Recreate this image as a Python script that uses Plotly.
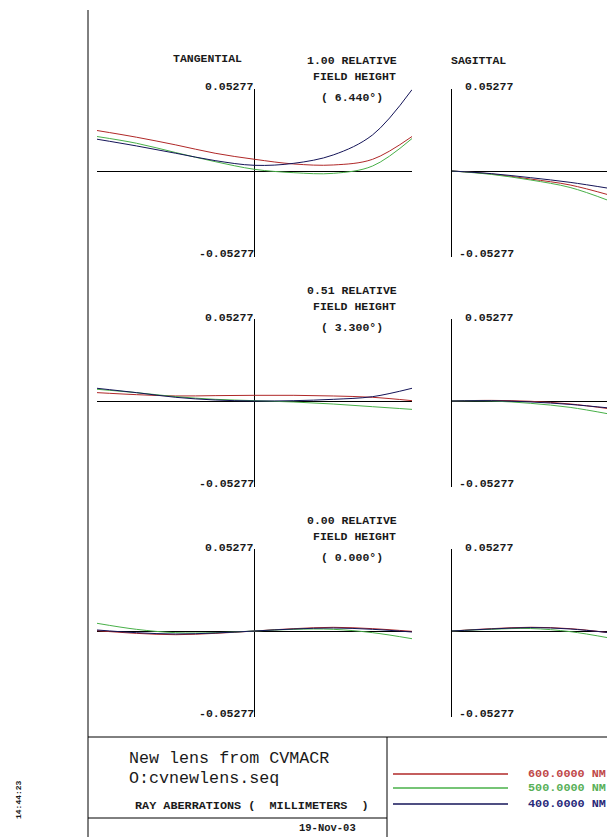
import plotly.graph_objects as go

W, H = 607, 837

# ---------------- data (ray aberrations, mm) ----------------
tan_pupil = [-1.0, -0.75, -0.5, -0.25, 0.0, 0.25, 0.5, 0.75, 1.0]
sag_pupil = [0.0, 0.25, 0.5, 0.75, 1.0]

wavelength_labels = ["600.0000 NM", "500.0000 NM", "400.0000 NM"]
field_labels = [["1.00 RELATIVE", "FIELD HEIGHT", "( 6.440°)"],
                ["0.51 RELATIVE", "FIELD HEIGHT", "( 3.300°)"],
                ["0.00 RELATIVE", "FIELD HEIGHT", "( 0.000°)"]]
scale_label = "0.05277"

# field 1.00
tan_f1_600 = [0.02606, 0.02175, 0.01680, 0.01142, 0.00754, 0.00452, 0.00388, 0.00754, 0.02219]
tan_f1_500 = [0.02219, 0.01788, 0.01185, 0.00603, 0.00108, -0.00108, -0.00151, 0.00323, 0.02089]
tan_f1_400 = [0.02046, 0.01615, 0.01142, 0.00668, 0.00366, 0.00495, 0.01034, 0.02326, 0.05234]
sag_f1_600 = [0.0, -0.0019, -0.0052, -0.0090, -0.0155]
sag_f1_500 = [0.0, -0.0022, -0.0058, -0.0106, -0.0192]
sag_f1_400 = [0.0, -0.0017, -0.0043, -0.0073, -0.0112]

# field 0.51
tan_f2_600 = [0.00538, 0.00409, 0.00323, 0.00345, 0.00366, 0.00366, 0.00323, 0.00237, 0.00022]
tan_f2_500 = [0.00754, 0.00538, 0.00280, 0.00108, 0.00022, -0.00065, -0.00194, -0.00366, -0.00538]
tan_f2_400 = [0.00818, 0.00538, 0.00237, 0.00065, 0.0, 0.00022, 0.00108, 0.00280, 0.00818]
sag_f2_600 = [0.0, 0.0004, -0.0002, -0.0019, -0.0050]
sag_f2_500 = [0.0, 0.0000, -0.0015, -0.0041, -0.0084]
sag_f2_400 = [0.0, 0.0002, -0.0006, -0.0022, -0.0045]

# field 0.00
tan_f3_600 = [0.00022, -0.00151, -0.00237, -0.00151, 0.0, 0.00151, 0.00237, 0.00151, -0.00022]
tan_f3_500 = [0.00495, 0.00108, -0.00108, -0.00108, 0.0, 0.00108, 0.00108, -0.00108, -0.00495]
tan_f3_400 = [0.00065, -0.00108, -0.00194, -0.00129, 0.0, 0.00129, 0.00194, 0.00108, -0.00065]
sag_f3_600 = [0.0, 0.0015, 0.0024, 0.0015, -0.0011]
sag_f3_500 = [0.0, 0.0011, 0.0016, -0.0004, -0.0045]
sag_f3_400 = [0.0, 0.0013, 0.0022, 0.0013, -0.0011]

tan_data = [[tan_f1_600, tan_f1_500, tan_f1_400],
            [tan_f2_600, tan_f2_500, tan_f2_400],
            [tan_f3_600, tan_f3_500, tan_f3_400]]
sag_data = [[sag_f1_600, sag_f1_500, sag_f1_400],
            [sag_f2_600, sag_f2_500, sag_f2_400],
            [sag_f3_600, sag_f3_500, sag_f3_400]]

# ---------------- styling ----------------
line_colors = ["#b02828", "#48b048", "#141458"]
text_colors = ["#c04848", "#58b058", "#282878"]
MONO = "Liberation Mono"
TXT = "#1a1a1a"


def px(x):
    return x / W


def py(y):
    return 1 - y / H


fig = go.Figure()

row_tops = [89, 319, 549]
row_h = 168
y_range = [-0.05534, 0.05277]

layout_axes = {}
ax = 1
for r in range(3):
    top = row_tops[r]
    ydom = [py(top + row_h), py(top)]
    # tangential
    xn = "x" if ax == 1 else f"x{ax}"
    yn = "y" if ax == 1 else f"y{ax}"
    for k in range(3):
        fig.add_trace(go.Scatter(x=tan_pupil, y=tan_data[r][k], mode="lines",
                                 line=dict(color=line_colors[k], width=1, shape="spline"),
                                 xaxis=xn, yaxis=yn, showlegend=False, hoverinfo="skip"))
    layout_axes[f"xaxis{ax}"] = dict(domain=[px(97), px(412)], range=[-1, 1], anchor=yn,
                                      showgrid=False, showticklabels=False, ticks="",
                                      zeroline=True, zerolinecolor="black", zerolinewidth=1,
                                      showline=False, fixedrange=True)
    layout_axes[f"yaxis{ax}"] = dict(domain=ydom, range=y_range, anchor=xn,
                                      showgrid=False, showticklabels=False, ticks="",
                                      zeroline=True, zerolinecolor="black", zerolinewidth=1,
                                      showline=False, fixedrange=True)
    ax += 1
    # sagittal
    xn = f"x{ax}"
    yn = f"y{ax}"
    for k in range(3):
        fig.add_trace(go.Scatter(x=sag_pupil, y=sag_data[r][k], mode="lines",
                                 line=dict(color=line_colors[k], width=1, shape="spline"),
                                 xaxis=xn, yaxis=yn, showlegend=False, hoverinfo="skip"))
    layout_axes[f"xaxis{ax}"] = dict(domain=[px(452), 1.0], range=[0, 155 / 157.5], anchor=yn,
                                      showgrid=False, showticklabels=False, ticks="",
                                      zeroline=False, showline=False, fixedrange=True)
    layout_axes[f"yaxis{ax}"] = dict(domain=ydom, range=y_range, anchor=xn,
                                      showgrid=False, showticklabels=False, ticks="",
                                      zeroline=True, zerolinecolor="black", zerolinewidth=1,
                                      showline=True, linecolor="black", linewidth=1,
                                      fixedrange=True)
    ax += 1

annotations = []


def add_text(x, y, text, size, color=TXT, xanchor="center", bold=False, family=MONO, angle=0):
    t = f"<b>{text}</b>" if bold else text
    annotations.append(dict(x=px(x), y=py(y), xref="paper", yref="paper", text=t,
                            showarrow=False, xanchor=xanchor, yanchor="middle",
                            textangle=angle,
                            font=dict(family=family, size=size, color=color)))


add_text(207, 59, "TANGENTIAL", 11.5, bold=True)
add_text(478, 60, "SAGITTAL", 11.5, bold=True)

for r in range(3):
    off = 230 * r
    add_text(352, 60 + off, field_labels[r][0], 11.5, bold=True)
    add_text(354, 76 + off, field_labels[r][1], 11.5, bold=True)
    add_text(352, 97 + off, field_labels[r][2], 11.5, bold=True)
    add_text(229, 87 + off, scale_label, 11.5, bold=True)
    add_text(226, 253 + off, "-" + scale_label, 11.5, bold=True)
    add_text(489, 87 + off, scale_label, 11.5, bold=True)
    add_text(486, 253 + off, "-" + scale_label, 11.5, bold=True)

# title block
add_text(127, 758, "New lens from CVMACR", 16.7, xanchor="left")
add_text(127, 778, "O:cvnewlens.seq", 16.7, xanchor="left")
add_text(133, 806, "RAY ABERRATIONS (  MILLIMETERS  )", 11.8, xanchor="left", bold=True)
add_text(358, 828, "19-Nov-03", 10.5, xanchor="right", bold=True)
add_text(18, 800, "14:44:23", 8, bold=True, angle=-90)

legend_y = [774, 788, 804]
for k in range(3):
    add_text(526, legend_y[k], wavelength_labels[k], 11.8, color=text_colors[k],
             xanchor="left", bold=True)

shapes = []


def add_line(x0, y0, x1, y1, color="black", width=1):
    shapes.append(dict(type="line", xref="paper", yref="paper",
                       x0=px(x0), y0=py(y0), x1=px(x1), y1=py(y1),
                       line=dict(color=color, width=width)))


add_line(88, 10, 88, 837)
add_line(88, 737, 607, 737)
add_line(88, 818, 387, 818)
add_line(387, 737, 387, 837)
for k in range(3):
    add_line(393, legend_y[k], 508, legend_y[k], color=line_colors[k], width=1.3)

fig.update_layout(width=W, height=H, margin=dict(l=0, r=0, t=0, b=0),
                  paper_bgcolor="white", plot_bgcolor="white",
                  annotations=annotations, shapes=shapes, **layout_axes)

fig.write_html("out.html", config={"displayModeBar": False, "staticPlot": True},
               post_script="document.body.style.margin='0';document.body.style.overflow='hidden';")
